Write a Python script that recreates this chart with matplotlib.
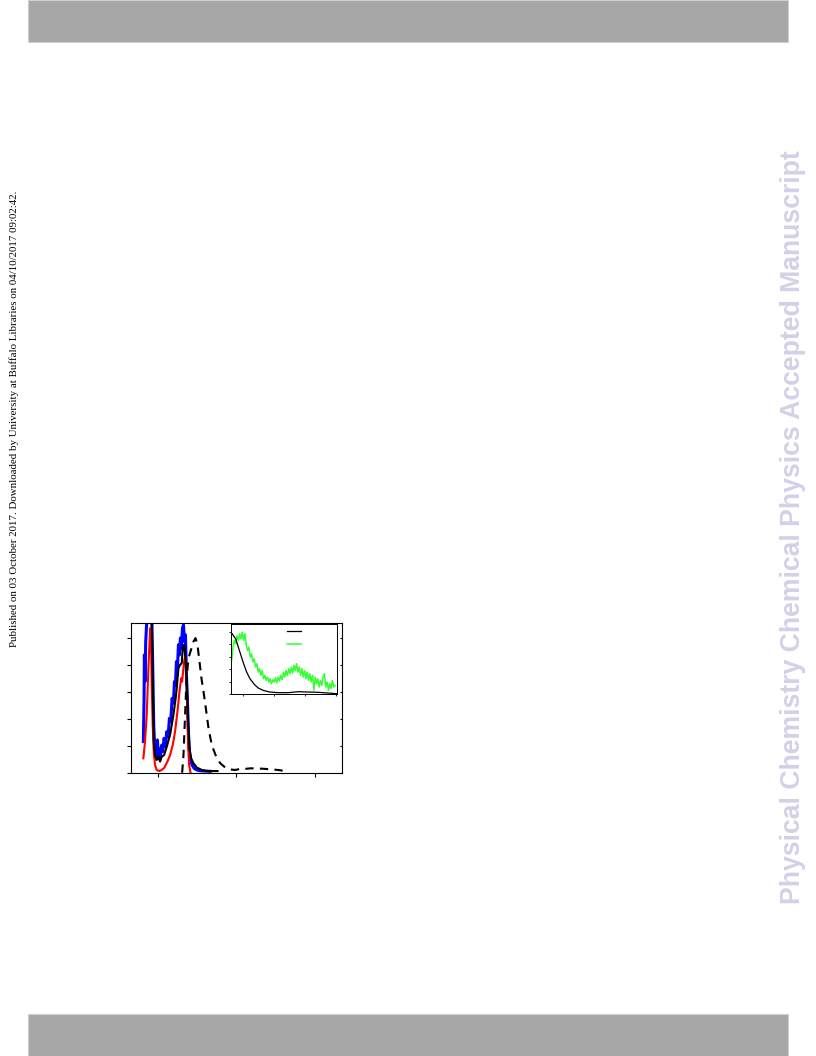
import numpy as np
import matplotlib.pyplot as plt
from matplotlib.patches import Rectangle

# main panel: spectra (arbitrary units)
black_x = [0.923, 0.936, 0.949, 0.966, 0.987, 1.009, 1.03, 1.051, 1.081, 1.115, 1.157, 1.2,
           1.234, 1.264, 1.285, 1.306, 1.319, 1.336, 1.353, 1.37, 1.387, 1.404, 1.426, 1.455,
           1.498, 1.562, 1.626, 1.689, 1.762]
black_y = [5.84, 3.37, 1.15, 0.65, 0.47, 0.59, 0.41, 0.59, 0.65, 0.96, 1.40, 2.14,
           2.88, 3.86, 3.99, 4.05, 4.67, 4.73, 4.23, 3.37, 1.89, 0.9, 0.53, 0.35,
           0.19, 0.1, 0.06, 0.06, 0.06]

blue_x = [0.817, 0.826, 0.83, 0.838, 0.847, 0.86, 0.872, 0.923, 0.936, 0.949, 0.962, 0.974,
          0.987, 0.996, 1.009, 1.021, 1.034, 1.051, 1.064, 1.081, 1.098, 1.115, 1.132, 1.149,
          1.166, 1.183, 1.2, 1.213, 1.226, 1.238, 1.251, 1.264, 1.277, 1.289, 1.302, 1.315,
          1.328, 1.34, 1.353, 1.366, 1.379, 1.391, 1.404, 1.421, 1.438, 1.464, 1.498, 1.54,
          1.604, 1.668]
blue_y = [1.15, 2.75, 4.36, 3.37, 4.85, 5.59, 6.0, 6.0, 3.99, 1.77, 0.9, 1.15,
          0.65, 1.21, 0.53, 0.9, 0.59, 1.02, 0.78, 1.27, 0.96, 1.52, 1.33, 2.01,
          1.89, 2.75, 2.57, 3.37, 3.25, 4.11, 3.86, 4.73, 4.36, 4.98, 4.6, 5.35,
          5.47, 4.85, 5.1, 3.62, 2.63, 1.52, 0.78, 0.41, 0.28, 0.16, 0.1, 0.07,
          0.06, 0.05]

red_x = [0.817, 0.838, 0.86, 0.881, 0.898, 0.906, 0.915, 0.923, 0.936, 0.949, 0.966, 0.987,
         1.021, 1.051, 1.085, 1.123, 1.157, 1.191, 1.221, 1.251, 1.277, 1.298, 1.311, 1.323,
         1.336, 1.349, 1.362, 1.374, 1.387, 1.4, 1.417]
red_y = [0.53, 1.15, 2.14, 3.86, 4.98, 5.35, 4.85, 3.37, 1.77, 0.78, 0.28, 0.1,
         0.06, 0.1, 0.19, 0.41, 0.65, 1.02, 1.52, 2.26, 3.0, 3.49, 3.37, 3.74,
         4.11, 4.3, 3.99, 2.63, 1.02, 0.28, 0.01]

dash_x = [1.311, 1.328, 1.345, 1.362, 1.383, 1.404, 1.43, 1.455, 1.481, 1.506, 1.532, 1.557,
          1.583, 1.613, 1.647, 1.689, 1.745, 1.796, 1.86, 1.923, 1.987, 2.051, 2.115, 2.179,
          2.243, 2.306, 2.37, 2.434, 2.498, 2.562, 2.626, 2.647]
dash_y = [0.0, 0.65, 1.89, 3.12, 3.99, 4.36, 4.6, 4.85, 4.98, 4.73, 4.11, 3.49,
          3.0, 2.38, 1.64, 1.02, 0.59, 0.35, 0.19, 0.12, 0.1, 0.14, 0.14, 0.16,
          0.16, 0.15, 0.14, 0.12, 0.11, 0.09, 0.05, 0.01]

# inset: kinetics
inset_black_x = [0.603, 0.678, 0.753, 0.839, 0.925, 1.011, 1.108, 1.215, 1.355, 1.484, 1.645,
                 1.86, 2.129, 2.452, 2.774, 3.097, 3.42, 3.742, 4.011]
inset_black_y = [4.95, 4.68, 4.42, 3.76, 3.09, 2.43, 1.77, 1.24, 0.79, 0.5, 0.31,
                 0.18, 0.13, 0.13, 0.21, 0.18, 0.16, 0.1, 0.05]

inset_green_y = [2.70, 3.76, 4.29, 4.02, 4.68, 4.29, 4.82, 4.42, 4.95, 4.29, 4.82, 3.89,
                 3.49, 3.76, 2.96, 3.23, 2.57, 2.83, 2.17, 2.43, 1.77, 2.04, 1.51, 1.90,
                 1.24, 1.51, 1.11, 1.37, 0.98, 1.24, 0.85, 1.16, 0.98, 1.32, 0.90, 1.37,
                 1.06, 1.51, 1.16, 1.77, 1.37, 1.90, 1.51, 2.04, 1.64, 2.17, 1.69, 2.30,
                 1.90, 2.43, 1.77, 2.17, 1.51, 2.04, 1.37, 1.90, 1.24, 1.77, 1.11, 1.64,
                 0.98, 1.51, 0.32, 1.37, 0.85, 1.24, 0.58, 1.11, 0.71, 1.37, 1.64, 0.58,
                 0.98, 0.32, 0.85, 0.45, 1.11, 0.58, 0.71]
inset_green_x = np.linspace(0.625, 3.96, len(inset_green_y))

fig = plt.figure(figsize=(8.16, 10.56), dpi=100)

# page decorations
for y0 in (0.9602, 0.0):
    fig.patches.append(Rectangle((0.0343, y0), 0.9314, 0.0398, transform=fig.transFigure,
                                 facecolor='#a6a6a6', edgecolor='#d0d0d0', lw=0.8))
fig.text(0.017, 0.603, 'Published on 03 October 2017. Downloaded by University at Buffalo '
         'Libraries on 04/10/2017 09:02:42.', rotation=90, ha='center', va='center',
         fontsize=7.8, family='Liberation Serif')
fig.text(0.972, 0.501, 'Physical Chemistry Chemical Physics Accepted Manuscript', rotation=90,
         ha='center', va='center', fontsize=19.2, fontweight='bold', color='#d2d1e8',
         family='Liberation Sans')

ax = fig.add_axes([0.1602, 0.2683, 0.2586, 0.1418])
ax.plot(blue_x, blue_y, color='#0000ff', lw=2.2)
ax.plot(red_x, red_y, color='#ff0000', lw=1.5)
ax.plot(black_x, black_y, color='black', lw=1.5)
ax.plot(dash_x, dash_y, color='black', lw=1.5, ls=(0, (4, 3)))
ax.set_xlim(0.656, 3.344)
ax.set_ylim(0, 5.54)
ax.set_xticks([1, 2, 3])
ax.set_yticks([0, 1, 2, 3, 4, 5])
ax.tick_params(direction='out', length=3.2, width=0.8, labelleft=False, labelbottom=False)
ax.yaxis.set_tick_params(which='major', right=True)
for t in ax.yaxis.get_major_ticks():
    t.tick2line.set_marker(0)  # inward tick on the right side
    t.tick2line.set_markersize(1.5)
for s in ax.spines.values():
    s.set_linewidth(0.8)

axin = fig.add_axes([0.2831, 0.3425, 0.1295, 0.0666])
axin.plot(inset_green_x, inset_green_y, color='#33ff33', lw=1.1, label=' ')
axin.plot(inset_black_x, inset_black_y, color='black', lw=0.9, label=' ')
axin.set_xlim(0.603, 4.013)
axin.set_ylim(0, 5.6)
axin.set_xticks([1, 2, 3, 4])
axin.set_yticks([0, 1, 2, 3, 4, 5])
axin.tick_params(direction='out', length=1.5, width=0.6, labelleft=False, labelbottom=False)
for s in axin.spines.values():
    s.set_linewidth(0.7)
h, l = axin.get_legend_handles_labels()
axin.legend(h[::-1], l[::-1], loc='upper left', bbox_to_anchor=(0.47, 1.04), frameon=False,
            handlelength=1.7, labelspacing=0.45, fontsize=6, borderpad=0.2)

fig.savefig('out.png', dpi=100)
